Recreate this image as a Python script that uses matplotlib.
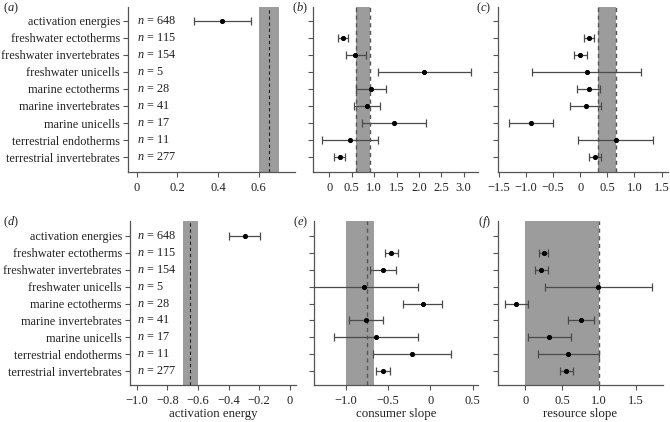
import matplotlib
matplotlib.use("Agg")
import matplotlib.pyplot as plt
import numpy as np

plt.rcParams['font.family'] = ['Liberation Serif', 'DejaVu Serif']
plt.rcParams['mathtext.fontset'] = 'custom'
plt.rcParams['mathtext.rm'] = 'Liberation Serif'
plt.rcParams['mathtext.it'] = 'Liberation Serif:italic'

categories = ["activation energies", "freshwater ectotherms", "freshwater invertebrates",
              "freshwater unicells", "marine ectotherms", "marine invertebrates",
              "marine unicells", "terrestrial endotherms", "terrestrial invertebrates"]
n_values = [648, 115, 154, 5, 28, 41, 17, 11, 277]

# panel a: activation energies (only first row)
a_est = [0.42]; a_lo = [0.282]; a_hi = [0.56]
# panel b (rows 2-9)
b_est = [0.298, 0.581, 2.12, 0.923, 0.849, 1.444, 0.469, 0.239]
b_lo = [0.187, 0.365, 1.08, 0.596, 0.559, 0.72, -0.156, 0.112]
b_hi = [0.425, 0.812, 3.156, 1.266, 1.13, 2.158, 1.094, 0.35]
# panel c
c_est = [0.154, 0.0, 0.117, 0.154, 0.099, -0.91, 0.653, 0.271]
c_lo = [0.074, -0.122, -0.885, -0.055, -0.178, -1.303, -0.042, 0.16]
c_hi = [0.247, 0.117, 1.114, 0.363, 0.382, -0.504, 1.341, 0.382]
# panel d
d_est = [-0.293]; d_lo = [-0.399]; d_hi = [-0.191]
# panel e
e_est = [-0.465, -0.555, -0.78, -0.09, -0.76, -0.646, -0.212, -0.559]
e_lo = [-0.535, -0.709, -1.5, -0.323, -0.965, -1.138, -0.673, -0.646]
e_hi = [-0.382, -0.40, -0.141, 0.142, -0.555, -0.149, 0.249, -0.476]
# panel f
f_est = [0.247, 0.215, 0.991, -0.123, 0.758, 0.324, 0.584, 0.557]
f_lo = [0.187, 0.132, 0.265, -0.279, 0.58, 0.037, 0.164, 0.47]
f_hi = [0.306, 0.301, 1.717, 0.032, 0.94, 0.621, 1.0, 0.648]

W, H = 670, 422
fig = plt.figure(figsize=(W / 100, H / 100), dpi=100)

SHADE = '#9c9c9c'
LINE = '#4a4a4a'
FS = 9.0
YFS = 8.8

def make_ax(l, r, t, b):
    return fig.add_axes([l / W, 1 - b / H, (r - l) / W, (b - t) / H])

def style(ax, xlim, ylim, xticks, xticklabels, show_y=False):
    ax.set_xlim(*xlim)
    ax.set_ylim(*ylim)
    for s in ['top', 'right']:
        ax.spines[s].set_visible(False)
    for s in ['left', 'bottom']:
        ax.spines[s].set_color('#555555')
        ax.spines[s].set_linewidth(0.9)
    ax.set_xticks(xticks)
    ax.set_xticklabels(xticklabels, fontsize=FS)
    ax.set_yticks(np.arange(1, 10))
    if show_y:
        ax.set_yticklabels(categories, fontsize=YFS)
    else:
        ax.set_yticklabels([])
    ax.tick_params(axis='y', length=3.5, width=0.8, color='#555555', pad=2.3, labelcolor='#222222')
    ax.tick_params(axis='x', length=3.5, width=0.8, color='#555555', pad=3.5, labelcolor='#222222')
    ax.set_facecolor('none')

def bars(ax, rows, est, lo, hi):
    est = np.array(est); lo = np.array(lo); hi = np.array(hi)
    ax.errorbar(est, rows, xerr=[est - lo, hi - est], fmt='o', ms=2.7, color='black',
                ecolor=LINE, elinewidth=0.9, capsize=3.0, capthick=0.9, zorder=5)

def nlabels(ax, dx):
    for i, n in enumerate(n_values):
        ax.text(dx, i + 1, r"$\mathit{n}$ = %d" % n, transform=ax.get_yaxis_transform(),
                fontsize=YFS, va='center', ha='left', color='#222222')

rows_all = np.arange(2, 10)
top_ylim = (9.88, 0.18)
bot_ylim = (9.82, 0.12)

# (a)
ax = make_ax(128, 295, 7, 172)
style(ax, (-0.043, 0.778), top_ylim, [0, 0.2, 0.4, 0.6], ['0', '0.2', '0.4', '0.6'], True)
ax.axvspan(0.6, 0.7, color=SHADE, lw=0, zorder=1)
ax.axvline(0.65, color='#222222', lw=0.8, ls=(0, (3, 2.5)), zorder=2)
bars(ax, [1], a_est, a_lo, a_hi)
nlabels(ax, 0.055)

# (b)
ax = make_ax(313, 478, 7, 172)
tk = [0, 0.5, 1.0, 1.5, 2.0, 2.5, 3.0]
style(ax, (-0.364, 3.319), top_ylim, tk, ['0', '0.5', '1.0', '1.5', '2.0', '2.5', '3.0'])
ax.axvspan(0.6, 0.91, color=SHADE, lw=0, zorder=1)
for v in (0.6, 0.91):
    ax.axvline(v, color='#555555', lw=1.0, ls=(0, (3, 2.5)), zorder=2)
bars(ax, rows_all, b_est, b_lo, b_hi)

# (c)
ax = make_ax(498, 668, 7, 172)
tk = [-1.5, -1.0, -0.5, 0, 0.5, 1.0, 1.5]
style(ax, (-1.513, 1.618), top_ylim, tk, ['\u22121.5', '\u22121.0', '\u22120.5', '0', '0.5', '1.0', '1.5'])
ax.axvspan(1 / 3, 2 / 3, color=SHADE, lw=0, zorder=1)
for v in (1 / 3, 2 / 3):
    ax.axvline(v, color='#555555', lw=1.0, ls=(0, (3, 2.5)), zorder=2)
bars(ax, rows_all, c_est, c_lo, c_hi)

# (d)
ax = make_ax(130, 296, 221, 385)
tk = [-1.0, -0.8, -0.6, -0.4, -0.2, 0]
style(ax, (-1.045, 0.042), bot_ylim, tk, ['\u22121.0', '\u22120.8', '\u22120.6', '\u22120.4', '\u22120.2', '0'], True)
ax.axvspan(-0.7, -0.6, color=SHADE, lw=0, zorder=1)
ax.axvline(-0.65, color='#222222', lw=0.8, ls=(0, (3, 2.5)), zorder=2)
bars(ax, [1], d_est, d_lo, d_hi)
nlabels(ax, 0.045)
ax.set_xlabel('activation energy', fontsize=FS + 0.3, labelpad=1.2, color='#222222')

# (e)
ax = make_ax(314, 478, 221, 385)
tk = [-1.0, -0.5, 0, 0.5]
style(ax, (-1.375, 0.564), bot_ylim, tk, ['\u22121.0', '\u22120.5', '0', '0.5'])
ax.axvspan(-1.0, -2 / 3, color=SHADE, lw=0, zorder=1)
ax.axvline(-0.75, color='#555555', lw=1.0, ls=(0, (3, 2.5)), zorder=2)
bars(ax, rows_all, e_est, e_lo, e_hi)
ax.set_xlabel('consumer slope', fontsize=FS + 0.3, labelpad=1.2, color='#222222')

# (f)
ax = make_ax(498, 663, 221, 385)
tk = [0, 0.5, 1.0, 1.5]
style(ax, (-0.374, 1.873), bot_ylim, tk, ['0', '0.5', '1.0', '1.5'])
ax.axvspan(0, 1.0, color=SHADE, lw=0, zorder=1)
ax.axvline(1.0, color='#555555', lw=1.0, ls=(0, (3, 2.5)), zorder=2)
bars(ax, rows_all, f_est, f_lo, f_hi)
ax.set_xlabel('resource slope', fontsize=FS + 0.3, labelpad=1.2, color='#222222')

# panel letters
for lab, x, y in [('a', 3, 8), ('b', 292, 8), ('c', 476, 8),
                  ('d', 3, 222), ('e', 293, 222), ('f', 478, 222)]:
    fig.text(x / W, 1 - y / H, r"($\mathit{%s}$)" % lab, fontsize=FS, ha='left', va='center', color='#222222')

fig.savefig('out.png', dpi=100)
